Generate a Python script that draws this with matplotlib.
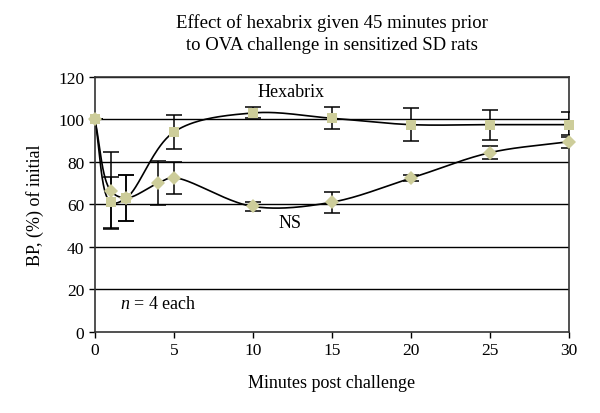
import numpy as np
import matplotlib
matplotlib.use("Agg")
import matplotlib.pyplot as plt

plt.rcParams["font.family"] = ["Liberation Serif", "DejaVu Serif"]
plt.rcParams["mathtext.fontset"] = "custom"
plt.rcParams["mathtext.it"] = "Liberation Serif:italic"
plt.rcParams["mathtext.rm"] = "Liberation Serif"

# Hexabrix series
hex_t = [0, 1, 2, 5, 10, 15, 20, 25, 30]
hex_bp = [100, 61, 63, 94, 103, 100.5, 97.5, 97.5, 97.5]
hex_err = [0, 12, 11, 8, 2.6, 5.2, 7.6, 7, 6]

# NS series
ns_t = [0, 1, 2, 4, 5, 10, 15, 20, 25, 30]
ns_bp = [100, 66.5, 63, 70, 72.5, 59, 61, 72.3, 84.3, 89.5]
ns_err = [0, 18, 11, 10.5, 7.5, 2, 5, 1.5, 3, 3.2]

x_ticks = [0, 5, 10, 15, 20, 25, 30]
y_ticks = [0, 20, 40, 60, 80, 100, 120]

MARKER_COLOR = "#cdcd9a"
# ratio of pixels per y unit to pixels per x unit, so the spline is shaped on screen
Y_TO_X = (255 / 120) / (474 / 30)


def smooth_curve(x, y, n=40, alpha=0.5):
    """Centripetal Catmull-Rom spline through the points, built in screen space."""
    pts = np.column_stack([np.asarray(x, float), np.asarray(y, float) * Y_TO_X])
    pts = np.vstack([2 * pts[0] - pts[1], pts, 2 * pts[-1] - pts[-2]])
    out = []
    for i in range(1, len(pts) - 2):
        p0, p1, p2, p3 = pts[i - 1], pts[i], pts[i + 1], pts[i + 2]
        t0 = 0.0
        t1 = t0 + np.linalg.norm(p1 - p0) ** alpha
        t2 = t1 + np.linalg.norm(p2 - p1) ** alpha
        t3 = t2 + np.linalg.norm(p3 - p2) ** alpha
        t = np.linspace(t1, t2, n)[:, None]
        a1 = (t1 - t) / (t1 - t0) * p0 + (t - t0) / (t1 - t0) * p1
        a2 = (t2 - t) / (t2 - t1) * p1 + (t - t1) / (t2 - t1) * p2
        a3 = (t3 - t) / (t3 - t2) * p2 + (t - t2) / (t3 - t2) * p3
        b1 = (t2 - t) / (t2 - t0) * a1 + (t - t0) / (t2 - t0) * a2
        b2 = (t3 - t) / (t3 - t1) * a2 + (t - t1) / (t3 - t1) * a3
        c = (t2 - t) / (t2 - t1) * b1 + (t - t1) / (t2 - t1) * b2
        out.append(c)
    out = np.vstack(out)
    return out[:, 0], out[:, 1] / Y_TO_X


fig = plt.figure(figsize=(6.0, 4.14), dpi=100)
ax = fig.add_axes([0.158, 0.196, 0.79, 0.616])

for yv in y_ticks[1:]:
    ax.axhline(yv, color="black", lw=1.0, zorder=1)

for t, bp, err, marker in ((hex_t, hex_bp, hex_err, "s"), (ns_t, ns_bp, ns_err, "D")):
    sx, sy = smooth_curve(t, bp)
    ax.plot(sx, sy, color="black", lw=1.2, zorder=2)
    ax.errorbar(t, bp, yerr=err, fmt="none", ecolor="black", elinewidth=1.1,
                capsize=6, capthick=1.1, zorder=3)
    ax.plot(t, bp, linestyle="none", marker=marker, color=MARKER_COLOR,
            markersize=7 if marker == "s" else 7.5, markeredgewidth=0,
            zorder=4, clip_on=False)

ax.set_xlim(0, 30)
ax.set_ylim(0, 120)
ax.set_xticks(x_ticks)
ax.set_yticks(y_ticks)
ax.tick_params(direction="out", length=4, width=1, labelsize=12.5, color="black")
for side in ("left", "bottom", "right", "top"):
    ax.spines[side].set_linewidth(1.2)
    ax.spines[side].set_color("#333333")

ax.text(12.45, 113, "Hexabrix", ha="center", va="center", fontsize=13)
ax.text(12.35, 51.3, "NS", ha="center", va="center", fontsize=13)
ax.text(1.6, 13.2, r"$n$ = 4 each", ha="left", va="center", fontsize=13)

ax.set_xlabel("Minutes post challenge", fontsize=13, labelpad=11)
ax.set_ylabel("BP, (%) of initial", fontsize=13, labelpad=10)
fig.text(0.553, 0.918, "Effect of hexabrix given 45 minutes prior\nto OVA challenge in sensitized SD rats",
         ha="center", va="center", fontsize=13.5, linespacing=1.4)

fig.savefig("out.png", dpi=100)
